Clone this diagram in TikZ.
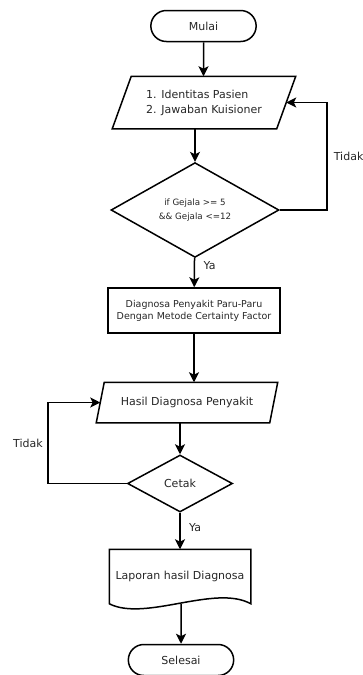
\documentclass[tikz,border=0pt]{standalone}
\usepackage{fontspec}
\setmainfont{DejaVu Sans}
\usepackage{tikz}
\usetikzlibrary{arrows.meta,shapes.geometric,shapes.misc}

\begin{document}
\begin{tikzpicture}[x=1pt,y=-1pt,->,>={Stealth[length=10pt,width=10pt,inset=2.5pt]},line width=1.5pt,
  every node/.style={text=black!85,font=\fontsize{11}{15}\selectfont},
  term/.style={draw=black,rounded rectangle,minimum width=112pt,minimum height=31pt},
  io/.style={rectangle,inner sep=0pt},
  dec/.style={draw=black,diamond,inner sep=0pt},
  proc/.style={draw=black,rectangle,minimum width=172pt,minimum height=45pt}]
  \useasboundingbox (0,0) rectangle (362,675);

  \node [term] (0) at (203.5,26) {Mulai};
  \node [io,minimum width=182pt,minimum height=51pt,align=left] (1) at (204,102.5) {1. Identitas Pasien\\2. Jawaban Kuisioner};
  \node [dec,minimum width=168pt,minimum height=86pt,align=center,font=\fontsize{8.7}{14}\selectfont] (2) at (195,210) {if Gejala >= 5\\\&\& Gejala <=12};
  \node [proc,align=center,font=\fontsize{9.5}{12}\selectfont] (3) at (194,310.5) {Diagnosa Penyakit Paru-Paru\\Dengan Metode Certainty Factor};
  \node [io,minimum width=180pt,minimum height=39pt] (4) at (187,402.5) {Hasil Diagnosa Penyakit};
  \node [dec,minimum width=105pt,minimum height=57pt] (5) at (180,483.5) {Cetak};
  \node [minimum width=140pt,minimum height=53pt] (6) at (180,576.5) {Laporan hasil Diagnosa};
  \node [term] (7) at (181,660) {Selesai};

  % input / output
  \draw[-] ([xshift=19pt]1.north west) -- (1.north east) -- ([xshift=-19pt]1.south east) -- (1.south west) -- cycle;
  \draw[-] ([xshift=8pt]4.north west) -- (4.north east) -- ([xshift=-8pt]4.south east) -- (4.south west) -- cycle;
  \coordinate (1b) at ([xshift=-9.5pt]1.south);
  \coordinate (1r) at ([xshift=-9.5pt]1.east);
  \coordinate (4b) at ([xshift=-4pt]4.south);
  \coordinate (4l) at ([xshift=4pt]4.west);

  % dokumen
  \draw[-] (6.north west) -- (6.north east) -- (6.south east) .. controls (215,584) and (145,622) .. (6.south west) -- cycle;

  \path (0) edge (0 |- 1.north);
  \path (2.north |- 1b) edge (2);
  \path (2) edge node[pos=0.25,right=5pt] {Ya} (3);
  \path (3.south) edge (3.south |- 4.north);
  \path (5.north |- 4b) edge (5);
  \path (5) edge node[pos=0.4,right=5pt] {Ya} (6);
  \path (7.north |- 6.south) edge (7);

  \draw (2.east) -- ++(47,0) |- node[pos=0.25,right=3pt] {Tidak} (1r);
  \draw (5.west) -- ++(-79,0) |- node[pos=0.25,left=1pt] {Tidak} (4l);
\end{tikzpicture}
\end{document}
